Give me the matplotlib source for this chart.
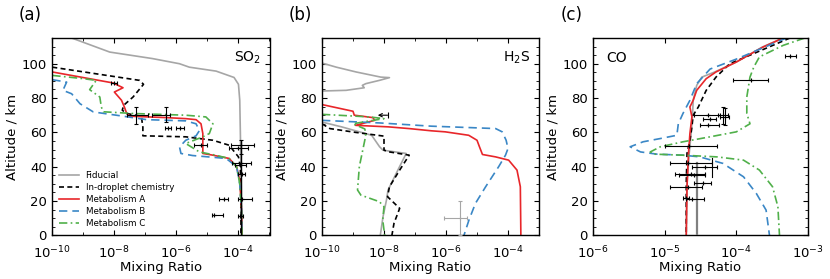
import numpy as np
import matplotlib
matplotlib.use("Agg")
import matplotlib.pyplot as plt
from matplotlib.ticker import FixedLocator, NullFormatter, MultipleLocator

# ---------------- Panel (a) SO2 : (altitude km, mixing ratio) ----------------
so2_fid_alt = [115, 106.8, 103, 100, 98, 95.7, 92, 88, 78.7, 60, 40, 20, 0]
so2_fid_x = [4.2e-10, 7.1e-9, 1.7e-7, 1.26e-6, 2.6e-6, 1.9e-5, 7.2e-5, 1.0e-4, 1.1e-4, 1.15e-4, 1.2e-4, 1.25e-4, 1.3e-4]

so2_drop_alt = [98, 90.3, 88, 80.6, 75.8, 72.9, 71, 69.4, 63, 58, 57.4, 55.4, 52.5, 45.7, 40, 20, 0]
so2_drop_x = [1e-10, 6.5e-8, 8.7e-8, 4e-8, 2e-8, 1.8e-8, 2.5e-8, 7.4e-8, 8.3e-8, 8.3e-8, 2.0e-6, 1.5e-5, 5e-5, 1.0e-4, 1.15e-4, 1.2e-4, 1.2e-4]

so2_a_alt = [95.2, 88.8, 86, 83.5, 78.7, 74.8, 71, 69.4, 68.6, 68, 67.4, 65, 59.3, 47.7, 46.7, 44.8, 40, 32, 15, 0]
so2_a_x = [1e-10, 9.1e-9, 1.9e-8, 1.0e-8, 1.7e-8, 2.1e-8, 2.5e-8, 3.2e-8, 4.7e-7, 2.0e-6, 4.3e-6, 6.2e-6, 7.1e-6, 7.1e-6, 1.5e-5, 5e-5, 8.7e-5, 1.1e-4, 1.25e-4, 1.3e-4]

so2_b_alt = [90.7, 89.3, 84.5, 82.5, 76.7, 71.9, 70, 67.4, 66.7, 65, 61, 58, 55.4, 51.5, 47.7, 46.5, 44.8, 40, 30, 15, 0]
so2_b_x = [1e-10, 2.9e-10, 2.2e-10, 4.2e-10, 7.8e-10, 2.1e-9, 1.15e-8, 1.1e-7, 2.0e-6, 4.3e-6, 5.5e-6, 4.3e-6, 2.0e-6, 1.26e-6, 1.4e-6, 3.3e-6, 4e-5, 8.7e-5, 1.1e-4, 1.25e-4, 1.3e-4]

so2_c_alt = [93.2, 91.3, 90.3, 84.9, 80.6, 74.8, 72, 71, 70, 69, 65, 59.3, 57.4, 53.5, 48.6, 47, 44.8, 40, 30, 15, 0]
so2_c_x = [1e-10, 1e-9, 2.6e-9, 1.6e-9, 3.4e-9, 3.8e-9, 4.4e-9, 4e-8, 2.0e-6, 8.9e-6, 1.5e-5, 1.15e-5, 7.1e-6, 2.0e-6, 5.5e-6, 1.5e-5, 5e-5, 8.7e-5, 1.1e-4, 1.25e-4, 1.3e-4]

# observations (a): altitude, value, x-low, x-high
so2_obs_alt = [88.5, 70, 70, 62.5, 62.5, 52.5, 52.5, 51, 42, 41, 36, 21, 21, 12, 11]
so2_obs_x = [1.0e-8, 5e-8, 4.5e-7, 5.3e-7, 1.35e-6, 6e-6, 1.2e-4, 1.0e-4, 1.2e-4, 1.1e-4, 1.3e-4, 3.5e-5, 1.3e-4, 1.6e-5, 1.1e-4]
so2_obs_lo = [8e-9, 2.5e-8, 1.6e-7, 4.2e-7, 1.0e-6, 3.8e-6, 5.6e-5, 5e-5, 6.3e-5, 8e-5, 1.0e-4, 2.4e-5, 1.0e-4, 1.4e-5, 1.0e-4]
so2_obs_hi = [1.2e-8, 1.2e-7, 6.3e-7, 6.8e-7, 1.8e-6, 1.0e-5, 3.2e-4, 2e-4, 2.5e-4, 1.8e-4, 1.6e-4, 4.5e-5, 2.8e-4, 3.2e-5, 1.4e-4]
so2_obs_ylo = [0, 5, 4, 0, 0, 0, 5, 0, 0, 0, 0, 0, 0, 0, 0]
so2_obs_yhi = [0, 5, 5, 0, 0, 0, 3, 0, 0, 0, 0, 0, 0, 0, 0]

# ---------------- Panel (b) H2S ----------------
h2s_fid_alt1 = [100.4, 98, 95.2, 92.2, 91.9, 90.3, 88.4, 87.4, 86, 84.5, 84.1]
h2s_fid_x1 = [1e-10, 2.9e-10, 1.26e-9, 7.9e-9, 1.5e-8, 7.1e-9, 2.6e-9, 2.0e-9, 2.3e-9, 6e-10, 1e-10]
h2s_fid_alt2 = [66, 63.2, 58.3, 51.6, 49.6, 47.7, 38, 26.4, 20.5, 10.9, 0]
h2s_fid_x2 = [1e-10, 4.3e-10, 4e-9, 7.2e-9, 9.3e-9, 5.2e-8, 2.8e-8, 1.35e-8, 1.2e-8, 9.3e-9, 7.6e-9]

h2s_drop_alt = [65, 62.2, 60, 57.8, 49.6, 48.6, 46.7, 38, 28.3, 22.5, 15.7, 7, 0]
h2s_drop_x = [1e-10, 1.8e-10, 1.2e-9, 1.0e-8, 1.0e-8, 1.5e-8, 6.5e-8, 3.2e-8, 1.5e-8, 1.3e-8, 3.2e-8, 2.1e-8, 1.8e-8]

h2s_a_alt = [76.2, 72.3, 70, 68.6, 67, 64.1, 63.2, 62.2, 60.9, 60.3, 58.3, 55.4, 51.6, 47.1, 45.7, 43.8, 38, 28.3, 0]
h2s_a_x = [1e-10, 1e-9, 1.1e-9, 4.4e-9, 5e-9, 1.2e-9, 1.4e-8, 6.5e-8, 3.4e-7, 9.5e-7, 5.4e-6, 1e-5, 1.2e-5, 1.5e-5, 4e-5, 1.05e-4, 1.95e-4, 2.5e-4, 2.6e-4]

h2s_b_alt = [67, 65.5, 63.6, 62.8, 62.2, 60.3, 55.4, 50.6, 46.7, 40, 28.3, 18.6, 8.9, 0]
h2s_b_x = [1e-10, 7.1e-9, 3.4e-7, 5.5e-6, 4e-5, 6.5e-5, 8.7e-5, 1.0e-4, 8.3e-5, 5e-5, 1.9e-5, 8.9e-6, 5.5e-6, 3.8e-6]

h2s_c_alt = [70.5, 69, 68, 66.5, 65, 62, 59.3, 55.4, 40, 26.4, 23.4, 19.6, 16.7, 8.9, 0]
h2s_c_x = [1e-10, 3.4e-9, 1.0e-8, 3.0e-9, 1.0e-9, 2.4e-9, 2.6e-9, 2.4e-9, 1.6e-9, 1.4e-9, 1.8e-9, 7.1e-9, 1.0e-8, 9.1e-9, 1.05e-8]

h2s_obs_alt = [10]
h2s_obs_x = [2.8e-6]
h2s_obs_lo = [8.9e-7]
h2s_obs_hi = [4.7e-6]
h2s_obs_ylo = [10]
h2s_obs_yhi = [10]
h2s_limit_alt = 70
h2s_limit_x = 1.3e-8
h2s_limit_to = 6.3e-9

# ---------------- Panel (c) CO ----------------
co_fid_alt = [115, 109.7, 101, 95.2, 92.2, 87.4, 78.7, 70, 60, 47.7, 30, 0]
co_fid_x = [4.5e-4, 2.3e-4, 1.0e-4, 5.0e-5, 3.3e-5, 2.8e-5, 2.5e-5, 2.45e-5, 2.35e-5, 2.2e-5, 2.05e-5, 2.0e-5]

co_drop_alt = [115, 105, 100, 92.2, 84.5, 74.8, 70, 63.2, 55.4, 47.7, 30, 0]
co_drop_x = [5.6e-4, 1.55e-4, 8.1e-5, 5.2e-5, 3.8e-5, 2.95e-5, 2.5e-5, 2.4e-5, 2.25e-5, 2.05e-5, 2.0e-5, 2.0e-5]

co_a_alt = [115, 109.7, 101, 95.2, 91.3, 84.5, 78.7, 74.8, 69, 59.3, 47.7, 28.3, 0]
co_a_x = [4.5e-4, 2.35e-4, 1.0e-4, 5.2e-5, 3.8e-5, 2.8e-5, 2.5e-5, 2.25e-5, 2.4e-5, 2.25e-5, 2.15e-5, 2.05e-5, 2.0e-5]

co_b_alt = [115, 102.7, 96.9, 88.4, 78.7, 71, 65, 58.3, 56.4, 54.5, 51.6, 48.6, 47.3, 46.7, 45.7, 41.9, 34.1, 24.4, 14.7, 0]
co_b_x = [5e-4, 1.0e-4, 4.3e-5, 2.8e-5, 2.25e-5, 1.8e-5, 1.55e-5, 1.48e-5, 8.7e-6, 5.0e-6, 3.3e-6, 4.6e-6, 7.8e-6, 1.8e-5, 3.1e-5, 6.5e-5, 1.26e-4, 1.9e-4, 2.6e-4, 2.9e-4]

co_c_alt = [115, 110.7, 104, 98, 92.2, 80.6, 71, 65, 60.3, 57.4, 54.5, 51.6, 48.6, 47.3, 46.7, 45.7, 43.8, 38, 28.3, 16.7, 0]
co_c_x = [9e-4, 4.5e-4, 2.1e-4, 1.75e-4, 1.55e-4, 1.4e-4, 1.4e-4, 1.55e-4, 1.0e-4, 4.3e-5, 1.8e-5, 8.7e-6, 6.3e-6, 7.1e-6, 1.8e-5, 5.4e-5, 1.26e-4, 2.1e-4, 3.2e-4, 3.8e-4, 4.0e-4]

co_obs_alt = [104.3, 90.3, 70, 70, 69, 67.5, 64, 52, 42, 40, 36, 35, 30.2, 28.3, 22, 21]
co_obs_x = [5.6e-4, 1.6e-4, 4.0e-5, 6.5e-5, 7.0e-5, 4.3e-5, 4.0e-5, 2.2e-5, 2.1e-5, 3.6e-5, 2.3e-5, 2.6e-5, 3.4e-5, 2.1e-5, 2.0e-5, 2.4e-5]
co_obs_lo = [4.8e-4, 9.1e-5, 2.6e-5, 5.5e-5, 6.0e-5, 3.4e-5, 3.1e-5, 1.0e-5, 1.2e-5, 2.4e-5, 1.4e-5, 1.6e-5, 2.6e-5, 1.2e-5, 1.8e-5, 2.0e-5]
co_obs_hi = [6.9e-4, 2.75e-4, 6.0e-5, 7.6e-5, 8.0e-5, 5.2e-5, 5.8e-5, 5.4e-5, 4.6e-5, 5.4e-5, 3.6e-5, 3.6e-5, 4.5e-5, 3.3e-5, 2.2e-5, 3.5e-5]
co_obs_ylo = [0, 0, 0, 5, 5, 0, 0, 0, 0, 0, 0, 0, 0, 0, 0, 0]
co_obs_yhi = [0, 0, 0, 5, 5, 0, 0, 0, 0, 0, 0, 0, 0, 0, 0, 0]
co_vbar_x = 2.8e-5
co_vbar_top = 42

labels = ["Fiducial", "In-droplet chemistry", "Metabolism A", "Metabolism B", "Metabolism C"]

# ---------------- styles ----------------
GRAY = "#a6a6a6"
RED = "#e8262a"
BLUE = "#3a87c6"
GREEN = "#50b04a"
LW = 1.2

fig = plt.figure(figsize=(8.3, 2.79), dpi=100)
W, H = 830, 279
def ax_at(l, r, t=38, b=235.3):
    return fig.add_axes([l / W, 1 - b / H, (r - l) / W, (b - t) / H])

axa = ax_at(52.3, 269.5)
axb = ax_at(322, 539)
axc = ax_at(593, 808)

def draw_models(ax, fid, drop, a, b, c):
    ax.plot(fid[0][0], fid[0][1], color=GRAY, lw=LW, label=labels[0])
    for (xs, ys) in fid[1:]:
        ax.plot(xs, ys, color=GRAY, lw=LW)
    ax.plot(drop[0], drop[1], color="k", lw=LW, ls=(0, (3, 2)), label=labels[1])
    ax.plot(a[0], a[1], color=RED, lw=LW, label=labels[2])
    ax.plot(b[0], b[1], color=BLUE, lw=LW, ls=(0, (5, 3)), label=labels[3])
    ax.plot(c[0], c[1], color=GREEN, lw=LW, ls=(0, (5, 2, 1, 2)), label=labels[4])

def draw_obs(ax, alt, x, lo, hi, ylo, yhi, color="k"):
    x = np.array(x); lo = np.array(lo); hi = np.array(hi)
    xerr = np.vstack([x - lo, hi - x])
    yerr = np.vstack([ylo, yhi])
    ax.errorbar(x, alt, xerr=xerr, yerr=yerr, fmt="none", ecolor=color,
                elinewidth=0.8, capsize=1.5, capthick=0.8, zorder=5)
    ax.plot(x, alt, ls="none", marker="|", ms=2.5, color=color, mew=0.8, zorder=5)

# panel a
draw_models(axa, [(so2_fid_x, so2_fid_alt)], (so2_drop_x, so2_drop_alt),
            (so2_a_x, so2_a_alt), (so2_b_x, so2_b_alt), (so2_c_x, so2_c_alt))
draw_obs(axa, so2_obs_alt, so2_obs_x, so2_obs_lo, so2_obs_hi, so2_obs_ylo, so2_obs_yhi)
axa.plot([1.2e-4, 1.2e-4], [0, 55], color="k", lw=1.0, zorder=5)

# panel b
draw_models(axb, [(h2s_fid_x1, h2s_fid_alt1), (h2s_fid_x2, h2s_fid_alt2)],
            (h2s_drop_x, h2s_drop_alt), (h2s_a_x, h2s_a_alt),
            (h2s_b_x, h2s_b_alt), (h2s_c_x, h2s_c_alt))
draw_obs(axb, h2s_obs_alt, h2s_obs_x, h2s_obs_lo, h2s_obs_hi, h2s_obs_ylo, h2s_obs_yhi, color=GRAY)
axb.annotate("", xy=(h2s_limit_to, h2s_limit_alt), xytext=(h2s_limit_x, h2s_limit_alt),
             arrowprops=dict(arrowstyle="->", color="k", lw=0.8, shrinkA=0, shrinkB=0,
                             mutation_scale=6), zorder=6)
axb.plot([h2s_limit_x], [h2s_limit_alt], marker="|", ms=4, color="k", mew=0.8)

# panel c
draw_models(axc, [(co_fid_x, co_fid_alt)], (co_drop_x, co_drop_alt),
            (co_a_x, co_a_alt), (co_b_x, co_b_alt), (co_c_x, co_c_alt))
axc.plot([co_vbar_x, co_vbar_x], [0, co_vbar_top], color="#808080", lw=1.6, zorder=4)
draw_obs(axc, co_obs_alt, co_obs_x, co_obs_lo, co_obs_hi, co_obs_ylo, co_obs_yhi)
axc.plot([4.6e-5, 4.6e-5], [34, 45], color="k", lw=0.8, zorder=5)

# axes formatting
for ax, xl in [(axa, (1e-10, 1e-3)), (axb, (1e-10, 1e-3)), (axc, (1e-6, 1e-3))]:
    ax.set_xscale("log")
    ax.set_xlim(*xl)
    ax.set_ylim(0, 115)
    ax.set_xlabel("Mixing Ratio", fontsize=9.5, labelpad=0)
    ax.set_ylabel("Altitude / km", fontsize=9.5, labelpad=2)
    ax.yaxis.set_major_locator(MultipleLocator(20))
    ax.yaxis.set_minor_locator(MultipleLocator(5))
    ax.tick_params(which="both", direction="in", top=True, right=True, labelsize=9.5)
    ax.tick_params(which="major", length=3.5, width=0.8)
    ax.tick_params(which="minor", length=2, width=0.6)
    ax.tick_params(axis="x", which="major", pad=6.5)
    ax.tick_params(axis="y", which="major", pad=4)
    for s in ax.spines.values():
        s.set_linewidth(1.0)

for ax in (axa, axb):
    ax.xaxis.set_major_locator(FixedLocator([1e-10, 1e-8, 1e-6, 1e-4]))
    ax.xaxis.set_minor_locator(FixedLocator([1e-9, 1e-7, 1e-5, 1e-3]))
    ax.xaxis.set_minor_formatter(NullFormatter())
axc.xaxis.set_major_locator(FixedLocator([1e-6, 1e-5, 1e-4, 1e-3]))
axc.xaxis.set_minor_locator(FixedLocator([]))

axa.text(0.96, 0.9, "SO$_2$", transform=axa.transAxes, ha="right", va="center", fontsize=10)
axb.text(0.96, 0.9, "H$_2$S", transform=axb.transAxes, ha="right", va="center", fontsize=10)
axc.text(0.06, 0.9, "CO", transform=axc.transAxes, ha="left", va="center", fontsize=10)

for txt, xp in [("(a)", 19), ("(b)", 289), ("(c)", 561)]:
    fig.text(xp / W, 1 - 15 / H, txt, fontsize=12, ha="left", va="center")

handles, labs = axa.get_legend_handles_labels()
axa.legend(handles[:5], labs[:5], loc="lower left", bbox_to_anchor=(0.0, 0.0),
           frameon=False, fontsize=6.3, handlelength=2.2, labelspacing=0.35,
           borderaxespad=0.4, handletextpad=0.8)

fig.savefig("out.png", dpi=100)
